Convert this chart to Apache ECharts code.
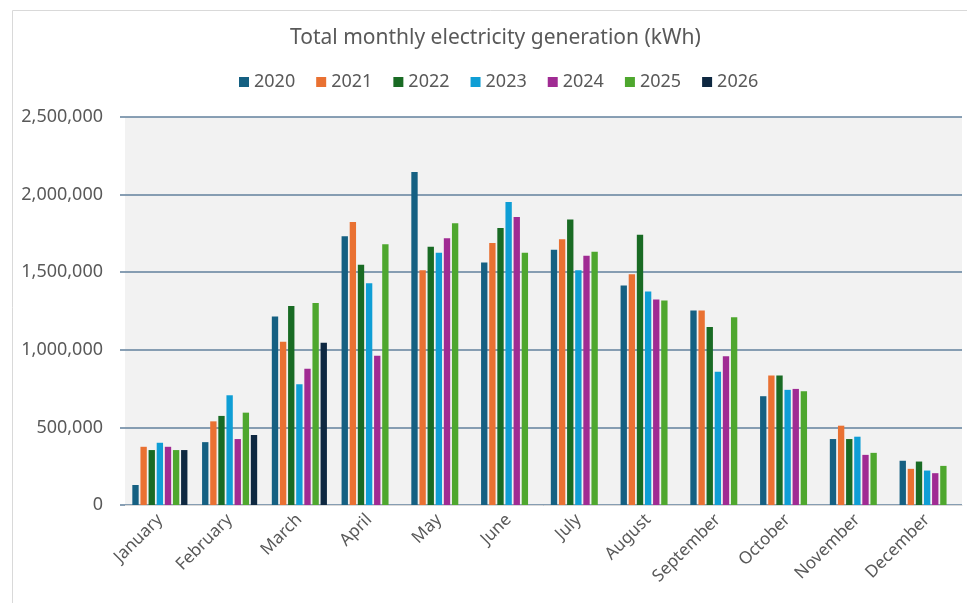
<!DOCTYPE html>
<html>
<head>
<meta charset="utf-8">
<script src="https://cdn.jsdelivr.net/npm/echarts@6/dist/echarts.min.js"></script>
<style>
  html, body { margin: 0; padding: 0; background: #fff; }
  #chart { width: 967px; height: 603px; }
</style>
</head>
<body>
<div id="chart"></div>
<script>
  // months on the x axis
  var months = ['January', 'February', 'March', 'April', 'May', 'June', 'July',
    'August', 'September', 'October', 'November', 'December'];
  var years = ['2020', '2021', '2022', '2023', '2024', '2025', '2026'];
  var yTicks = [0, 500000, 1000000, 1500000, 2000000, 2500000];

  // kWh per month
  var y2020 = [129000, 405000, 1214000, 1732000, 2146000, 1563000, 1645000, 1415000, 1253000, 701000, 425000, 285000];
  var y2021 = [375000, 539000, 1052000, 1824000, 1512000, 1688000, 1712000, 1486000, 1253000, 834000, 511000, 233000];
  var y2022 = [354000, 574000, 1283000, 1548000, 1664000, 1785000, 1839000, 1742000, 1147000, 834000, 425000, 280000];
  var y2023 = [401000, 707000, 778000, 1428000, 1626000, 1953000, 1512000, 1376000, 858000, 742000, 440000, 222000];
  var y2024 = [375000, 425000, 878000, 962000, 1719000, 1856000, 1606000, 1324000, 959000, 748000, 323000, 205000];
  var y2025 = [354000, 595000, 1302000, 1680000, 1816000, 1626000, 1632000, 1318000, 1210000, 733000, 336000, 252000];
  var y2026 = [354000, 451000, 1046000, null, null, null, null, null, null, null, null, null];

  var yearData = [y2020, y2021, y2022, y2023, y2024, y2025, y2026];
  var colors = ['#156082', '#E97132', '#196B24', '#0F9ED5', '#A02B93', '#4EA72E', '#0E2841'];
  var font = '"Noto Sans", sans-serif';
  var txt = '#595959';

  var chart = echarts.init(document.getElementById('chart'));

  var series = [];
  for (var i = 0; i < years.length; i++) {
    series.push({
      name: years[i],
      type: 'bar',
      data: yearData[i],
      barGap: '28%',
      barCategoryGap: '21%',
      itemStyle: { color: colors[i] },
      animation: false
    });
  }

  chart.setOption({
    animation: false,
    color: colors,
    textStyle: { fontFamily: font },
    title: {
      text: 'Total monthly electricity generation (kWh)',
      left: 285,
      top: 23,
      textStyle: { fontFamily: font, fontSize: 21, fontWeight: 'normal', color: txt }
    },
    legend: {
      data: years,
      top: 68,
      left: 234,
      icon: 'rect',
      itemWidth: 10,
      itemHeight: 10,
      itemGap: 21,
      textStyle: { fontFamily: font, fontSize: 18, color: txt }
    },
    graphic: [{
      type: 'rect',
      shape: { x: 12.5, y: 10.5, width: 1000, height: 700 },
      style: { fill: 'none', stroke: '#d9d9d9', lineWidth: 1 },
      silent: true
    }],
    grid: {
      left: 125,
      right: 5,
      top: 117,
      bottom: 98,
      show: true,
      backgroundColor: '#f2f2f2',
      borderWidth: 0
    },
    xAxis: {
      type: 'category',
      data: months,
      axisLine: { lineStyle: { color: '#d9d9d9', width: 1 } },
      axisTick: { show: false },
      axisLabel: {
        rotate: 45,
        interval: 0,
        margin: 12,
        fontFamily: font,
        fontSize: 17,
        color: txt
      }
    },
    yAxis: {
      type: 'value',
      min: yTicks[0],
      max: yTicks[yTicks.length - 1],
      interval: yTicks[1] - yTicks[0],
      axisLine: { show: false },
      axisTick: { show: true, length: 5, inside: false, lineStyle: { color: '#62809c', width: 1.5 } },
      splitLine: { lineStyle: { color: '#62809c', width: 1.5 } },
      axisLabel: {
        margin: 22,
        fontFamily: font,
        fontSize: 18,
        color: txt,
        formatter: function (v) { return v.toLocaleString('en-US'); }
      }
    },
    series: series
  });
</script>
</body>
</html>
